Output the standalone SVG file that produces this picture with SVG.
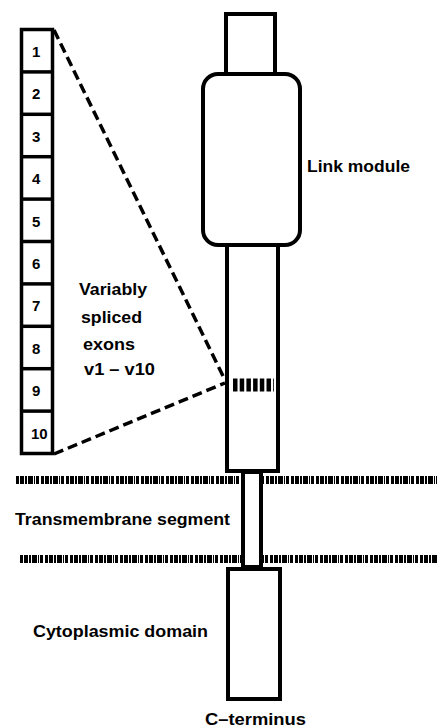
<svg xmlns="http://www.w3.org/2000/svg" width="437" height="728" viewBox="0 0 437 728">
<style>
  .shape { fill: #fff; stroke: #000; stroke-width: 4; }
  .exon { fill: #fff; stroke: #000; stroke-width: 3.5; }
  .num { font-family: "Liberation Sans", Arial, sans-serif; font-weight: bold; font-size: 15px; fill: #000; }
  .lbl { font-family: "Liberation Sans", Arial, sans-serif; font-weight: bold; font-size: 17px; fill: #000; }
  .membrane { stroke: #000; stroke-width: 8; stroke-dasharray: 3 1 4 1 2 1 5 1 1 1 3 2; fill: none; }
  .zoom { stroke: #000; stroke-width: 3.5; stroke-dasharray: 10 5; fill: none; }
</style>
<rect width="437" height="728" fill="#fff"/>
<g id="membrane">
  <line class="membrane" x1="16" y1="480" x2="437" y2="480"/>
  <line class="membrane" x1="20" y1="559" x2="437" y2="559"/>
</g>
<g id="exons">
  <rect class="exon" x="21.5" y="29.5" width="31" height="424"/>
  <line class="exon" x1="21.5" y1="71.9" x2="52.5" y2="71.9"/>
  <line class="exon" x1="21.5" y1="114.3" x2="52.5" y2="114.3"/>
  <line class="exon" x1="21.5" y1="156.7" x2="52.5" y2="156.7"/>
  <line class="exon" x1="21.5" y1="199.1" x2="52.5" y2="199.1"/>
  <line class="exon" x1="21.5" y1="241.5" x2="52.5" y2="241.5"/>
  <line class="exon" x1="21.5" y1="283.9" x2="52.5" y2="283.9"/>
  <line class="exon" x1="21.5" y1="326.3" x2="52.5" y2="326.3"/>
  <line class="exon" x1="21.5" y1="368.7" x2="52.5" y2="368.7"/>
  <line class="exon" x1="21.5" y1="411.1" x2="52.5" y2="411.1"/>
  <text class="num" x="32" y="57">1</text>
  <text class="num" x="32" y="99.4">2</text>
  <text class="num" x="32" y="141.8">3</text>
  <text class="num" x="32" y="184.2">4</text>
  <text class="num" x="32" y="226.6">5</text>
  <text class="num" x="32" y="269">6</text>
  <text class="num" x="32" y="311.4">7</text>
  <text class="num" x="32" y="353.8">8</text>
  <text class="num" x="32" y="396.2">9</text>
  <text class="num" x="31" y="438.6">10</text>
</g>
<g id="connectors">
  <line class="zoom" x1="54" y1="30" x2="225" y2="380"/>
  <line class="zoom" x1="54" y1="454" x2="225" y2="383"/>
</g>
<g id="top-domain">
  <rect class="shape" x="226" y="14" width="49" height="60"/>
</g>
<g id="stalk">
  <rect class="shape" x="227" y="245" width="51" height="226"/>
  <line x1="233" y1="385" x2="274" y2="385" stroke="#000" stroke-width="13" stroke-dasharray="4.5 2.2"/>
</g>
<g id="link-module">
  <rect class="shape" x="203" y="74" width="97" height="171" rx="15" ry="15"/>
  <text class="lbl" x="307" y="172" textLength="103" lengthAdjust="spacingAndGlyphs">Link module</text>
</g>
<g id="transmembrane">
  <rect class="shape" x="243" y="472" width="18" height="95"/>
  <text class="lbl" x="15" y="525" textLength="215" lengthAdjust="spacingAndGlyphs">Transmembrane segment</text>
</g>
<g id="cytoplasmic">
  <rect class="shape" x="228" y="569" width="52" height="130"/>
  <text class="lbl" x="33" y="637" textLength="175" lengthAdjust="spacingAndGlyphs">Cytoplasmic domain</text>
  <text class="lbl" x="205" y="725" textLength="101" lengthAdjust="spacingAndGlyphs">C–terminus</text>
</g>
<g id="exon-label">
  <text class="lbl" x="79" y="295" textLength="68" lengthAdjust="spacingAndGlyphs">Variably</text>
  <text class="lbl" x="81" y="323" textLength="61" lengthAdjust="spacingAndGlyphs">spliced</text>
  <text class="lbl" x="83" y="350" textLength="52" lengthAdjust="spacingAndGlyphs">exons</text>
  <text class="lbl" x="84" y="375" textLength="71" lengthAdjust="spacingAndGlyphs">v1 – v10</text>
</g>
</svg>
